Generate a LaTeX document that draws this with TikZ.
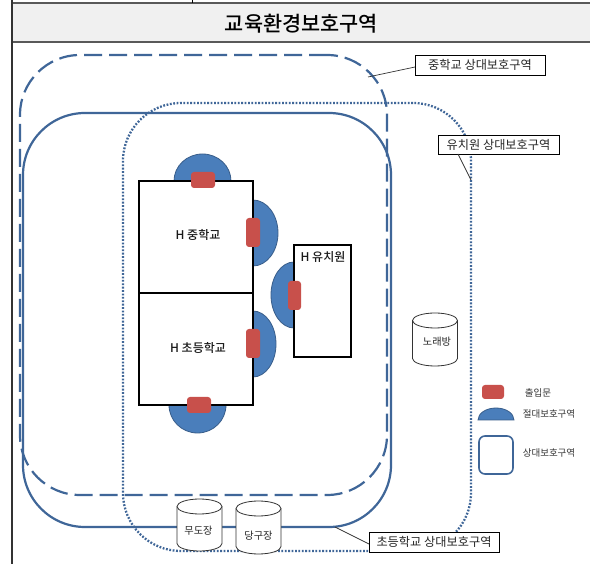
\documentclass[tikz,border=0pt]{standalone}
\usepackage{fontspec}
\setmainfont{Noto Sans CJK KR}
\newfontfamily\heavyfont{Noto Sans CJK KR Medium}
\definecolor{zone}{HTML}{3F6698}
\definecolor{absfill}{HTML}{4A7EBB}
\definecolor{absline}{HTML}{385D8A}
\definecolor{gate}{HTML}{C8504B}
\tikzset{
  box/.style={draw=black,fill=white,line width=2pt,inner sep=0pt,outer sep=0pt},
  boxtext/.style={font=\fontsize{12}{14}\selectfont\heavyfont,inner sep=0pt,text=black!90},
  zonebox/.style={draw=zone,inner sep=0pt,outer sep=0pt,line width=2.2pt},
  callout/.style={draw=black,fill=white,line width=0.7pt,inner sep=0pt,outer sep=0pt,font=\fontsize{12.2}{14}\selectfont,text=black!85},
  leader/.style={draw=black!80,line width=0.7pt},
  gatebox/.style={fill=gate,rounded corners=3pt,inner sep=0pt,outer sep=0pt},
  absz/.style={fill=absfill,draw=absline,line width=0.8pt},
  store/.style={draw=black!80,fill=white,line width=0.8pt},
  storetext/.style={font=\fontsize{10.2}{12}\selectfont,text=black!85,inner sep=0pt},
  legendtext/.style={font=\fontsize{9.5}{11}\selectfont,text=black!80,inner sep=0pt},
}
% centre x, top y, bottom y
\newcommand{\drumshape}[3]{%
  \path[store] (#1-22.5,#2+7.5) -- (#1-22.5,#3-7.5)
     arc[start angle=180,end angle=360,x radius=22.5pt,y radius=7.5pt]
     -- (#1+22.5,#2+7.5)
     arc[start angle=0,end angle=180,x radius=22.5pt,y radius=7.5pt] -- cycle;
  \path[store,fill=none] (#1-22.5,#2+7.5)
     arc[start angle=180,end angle=360,x radius=22.5pt,y radius=7.5pt];
}
\begin{document}
\begin{tikzpicture}[x=1pt,y=-1pt]
\useasboundingbox[fill=white] (0,0) rectangle (590,564);
% table frame and title
\fill[black!6] (12,3) rectangle (590,42);
\draw[black!65,line width=1.3pt] (12,3) -- (590,3);
\draw[black!65,line width=1.3pt] (12,42) -- (590,42);
\draw[black!80,line width=1.3pt] (12,0) -- (12,564);
\draw[black,line width=0.7pt] (192,0) -- (192,3);
\node[font=\fontsize{20.8}{24}\selectfont\heavyfont,inner sep=0pt] (title) at (301.5,24) {교육환경보호구역};
% relative protection zones
\node[zonebox,rounded corners=60pt,dash pattern=on 18pt off 7pt,minimum width=367pt,minimum height=440pt] (middlezone) at (203.5,275) {};
\node[zonebox,rounded corners=62pt,minimum width=368pt,minimum height=414pt] (elemzone) at (207,320) {};
\node[zonebox,line width=2.3pt,dash pattern=on 1.8pt off 1.6pt,rounded corners=58pt,minimum width=348pt,minimum height=448pt] (kinderzone) at (297,327) {};
% absolute protection zones
\path[absz] (174,181) arc[start angle=180,end angle=0,x radius=28.5pt,y radius=27pt] -- cycle;
\path[absz] (253,200) arc[start angle=90,end angle=-90,x radius=25pt,y radius=33pt] -- cycle;
\path[absz] (253,311) arc[start angle=90,end angle=-90,x radius=23pt,y radius=33pt] -- cycle;
\path[absz] (169,405) arc[start angle=180,end angle=360,x radius=28.5pt,y radius=28pt] -- cycle;
\path[absz] (294,262) arc[start angle=90,end angle=270,x radius=23pt,y radius=33pt] -- cycle;
% buildings
\node[box,minimum width=114pt,minimum height=112pt] (hmiddle) at (196,237) {};
\node[box,minimum width=114pt,minimum height=112pt] (helem) at (196,349) {};
\node[box,minimum width=57pt,minimum height=112pt] (hkinder) at (322.5,301) {};
\node[boxtext] (tmiddle) at (198,235) {H 중학교};
\node[boxtext] (telem) at (198,348) {H 초등학교};
\node[boxtext] (tkinder) at (323,257) {H 유치원};
% gates
\node[gatebox,minimum width=24pt,minimum height=16pt] (g1) at (203,180) {};
\node[gatebox,minimum width=14pt,minimum height=29pt] (g2) at (253,232.5) {};
\node[gatebox,minimum width=14pt,minimum height=29pt] (g3) at (253,343.5) {};
\node[gatebox,minimum width=24pt,minimum height=16pt] (g4) at (199,405) {};
\node[gatebox,minimum width=13pt,minimum height=29pt] (g5) at (294.5,295.5) {};
% callouts
\node[callout,minimum width=130pt,minimum height=20pt] (cm) at (480,65) {중학교 상대보호구역};
\node[callout,minimum width=121pt,minimum height=19pt] (ck) at (498.5,144.5) {유치원 상대보호구역};
\node[callout,minimum width=130pt,minimum height=20pt] (ce) at (434,542) {초등학교 상대보호구역};
\coordinate (lm) at (368,77);
\coordinate (lk) at (471,180);
\coordinate (le) at (335,527);
\draw[leader] ([yshift=-2pt]cm.west) -- (lm);
\draw[leader] ([xshift=20pt]ck.south west) -- (lk);
\draw[leader] ([yshift=-2pt]ce.west) -- (le);
% storage cylinders
\drumshape{435}{313}{366}
\drumshape{199.5}{499}{551}
\drumshape{258.5}{501}{554}
\node[storetext] (tnorae) at (437,342) {노래방};
\node[storetext] (tmudo) at (198.5,531) {무도장};
\node[storetext] (tdanggu) at (258.5,536) {당구장};
% legend
\node[gatebox,minimum width=22pt,minimum height=14pt] (lgate) at (493,392) {};
\path[absz] (478,420) arc[start angle=180,end angle=0,x radius=18pt,y radius=12pt] -- cycle;
\node[draw=zone,line width=1.6pt,rounded corners=6pt,inner sep=0pt,minimum width=34pt,minimum height=38pt] (lzone) at (496,455) {};
\node[legendtext] (t1) at (538,393) {출입문};
\node[legendtext] (t2) at (549,414) {절대보호구역};
\node[legendtext] (t3) at (549,453) {상대보호구역};
\end{tikzpicture}
\end{document}
